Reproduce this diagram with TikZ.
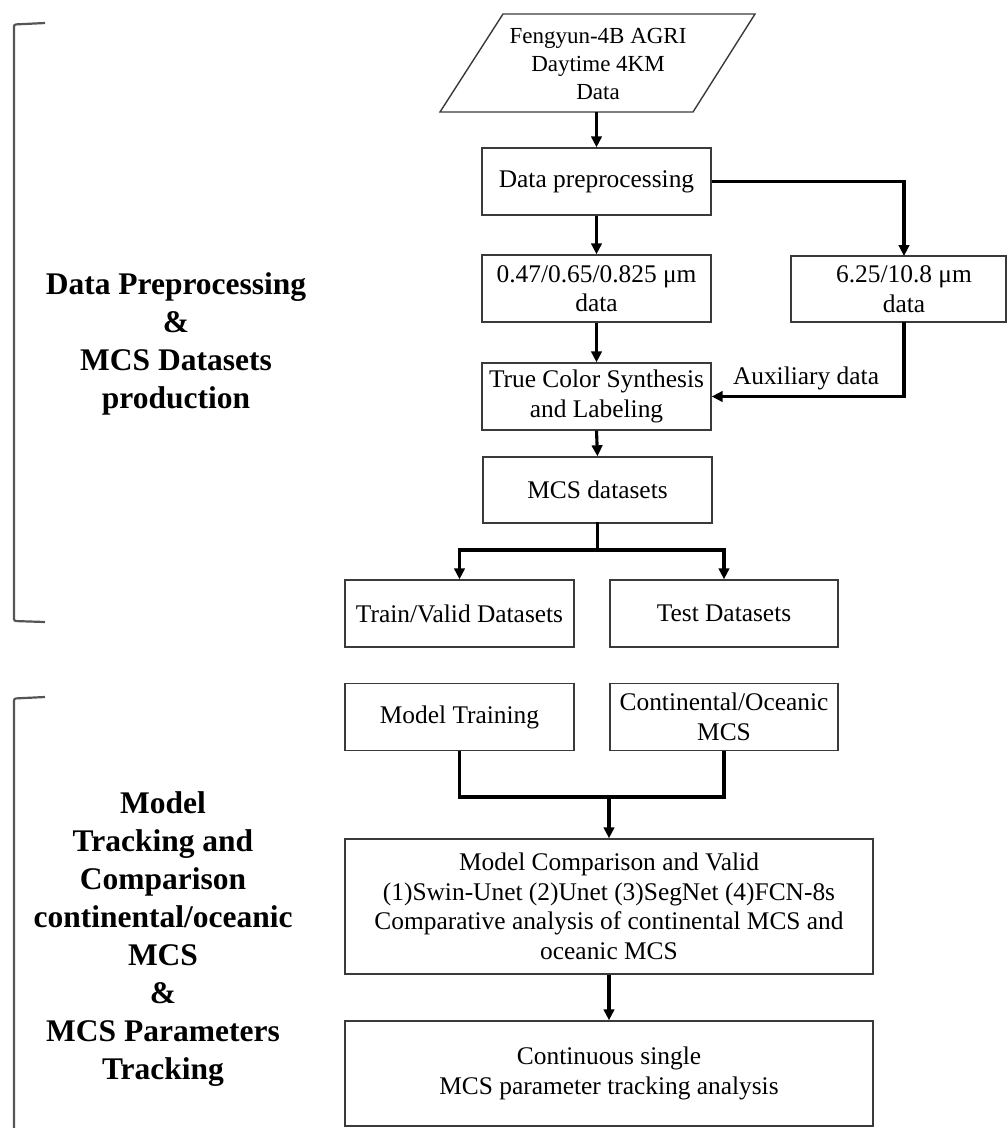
\documentclass[tikz,border=0pt]{standalone}
\usepackage{fontspec}
\setmainfont{Liberation Serif}
\usetikzlibrary{arrows.meta}
\definecolor{boxgray}{HTML}{3A3A3A}
\definecolor{brkgray}{HTML}{555555}
\begin{document}
\begin{tikzpicture}[x=1pt,y=-1pt,
  box/.style={draw=boxgray, line width=1.4pt, rectangle, align=center, inner sep=0pt,
    font=\fontsize{25.4}{29.5}\selectfont},
  txt/.style={align=center, inner sep=0pt, font=\fontsize{25.4}{28.5}\selectfont},
  arr/.style={line width=3.1pt, -{Triangle[length=11pt,width=10.5pt]}},
  conn/.style={line width=3.1pt},
  brk/.style={line width=2.2pt, draw=brkgray, rounded corners=2pt},
  side/.style={align=center, inner sep=0pt, font=\fontsize{31.5}{38}\selectfont\bfseries}]
\useasboundingbox (0,0) rectangle (1008,1128);

% brackets
\draw[brk] (45,23) -- (14,24.5) -- (14,621) -- (45,622);
\draw[brk] (45,697) -- (14,698.5) -- (14,1135);

% side labels
\node[side] (lab1) at (176,344) {Data Preprocessing\\\&\\MCS Datasets\\production};
\node[side] (lab2) at (163,939) {Model\\Tracking and\\Comparison\\continental/oceanic\\MCS\\\&\\MCS Parameters\\Tracking};

% source parallelogram
\draw[draw=boxgray, line width=1.4pt] (440,112) -- (503,14) -- (755,14) -- (693,112) -- cycle;
\node[txt, font=\fontsize{23}{28}\selectfont] (src) at (598,64) {Fengyun-4B AGRI\\Daytime 4KM\\Data};
\coordinate (srcb) at (596.5,112);

% boxes
\node[box, minimum width=229pt, minimum height=67pt] (prep) at (596.5,181.5) {Data preprocessing};
\node[box, minimum width=229pt, minimum height=67pt] (vis) at (596.5,288.5) {0.47/0.65/0.825 μm\\data};
\node[box, minimum width=215pt, minimum height=66pt] (ir) at (898.5,289) {\hspace*{11pt}6.25/10.8 μm\\\hspace*{11pt}data};
\node[box, minimum width=229pt, minimum height=67pt] (tcs) at (596.5,396.5) {True Color Synthesis\\and Labeling};
\node[box, minimum width=229pt, minimum height=66pt] (mcs) at (597.5,490) {MCS datasets};
\node[box, minimum width=229pt, minimum height=67pt] (train) at (459.5,613.5) {Train/Valid Datasets};
\node[box, minimum width=228pt, minimum height=67pt] (test) at (724,613.5) {Test Datasets};
\node[box, minimum width=229pt, minimum height=67pt] (mtrain) at (459.5,717) {Model Training};
\node[box, minimum width=228pt, minimum height=67pt] (cont) at (724,717) {Continental/Oceanic\\MCS};
\node[box, minimum width=528pt, minimum height=135pt] (comp) at (609,906.5) {Model Comparison and Valid\\(1)Swin-Unet (2)Unet (3)SegNet (4)FCN-8s\\Comparative analysis of continental MCS and\\oceanic MCS};
\node[box, minimum width=528pt, minimum height=105pt] (track) at (609,1073.5) {Continuous single\\MCS parameter tracking analysis};

% connectors
\draw[arr] (srcb) -- (prep.north);
\draw[arr] (prep.south) -- (vis.north);
\draw[arr] (vis.south) -- (tcs.north);
\draw[arr] (tcs.south) -- (mcs.north);

\coordinate (irin) at (904,256);
\coordinate (irout) at (904,322);
\draw[arr] (prep.east) -| (irin);
\draw[arr] (irout) |- (tcs.east);
\node[txt] (aux) at (806,378) {Auxiliary data};

\coordinate (j1) at (597.5,550);
\draw[conn, line cap=rect] (mcs.south) -- (j1);
\draw[arr] (j1) -| (train.north);
\draw[arr] (j1) -| (test.north);

\coordinate (j2) at (609,797);
\draw[conn] (mtrain.south) |- (j2) -| (cont.south);
\draw[arr] (j2) -- (comp.north);
\draw[arr] (comp.south) -- (track.north);
\end{tikzpicture}
\end{document}
